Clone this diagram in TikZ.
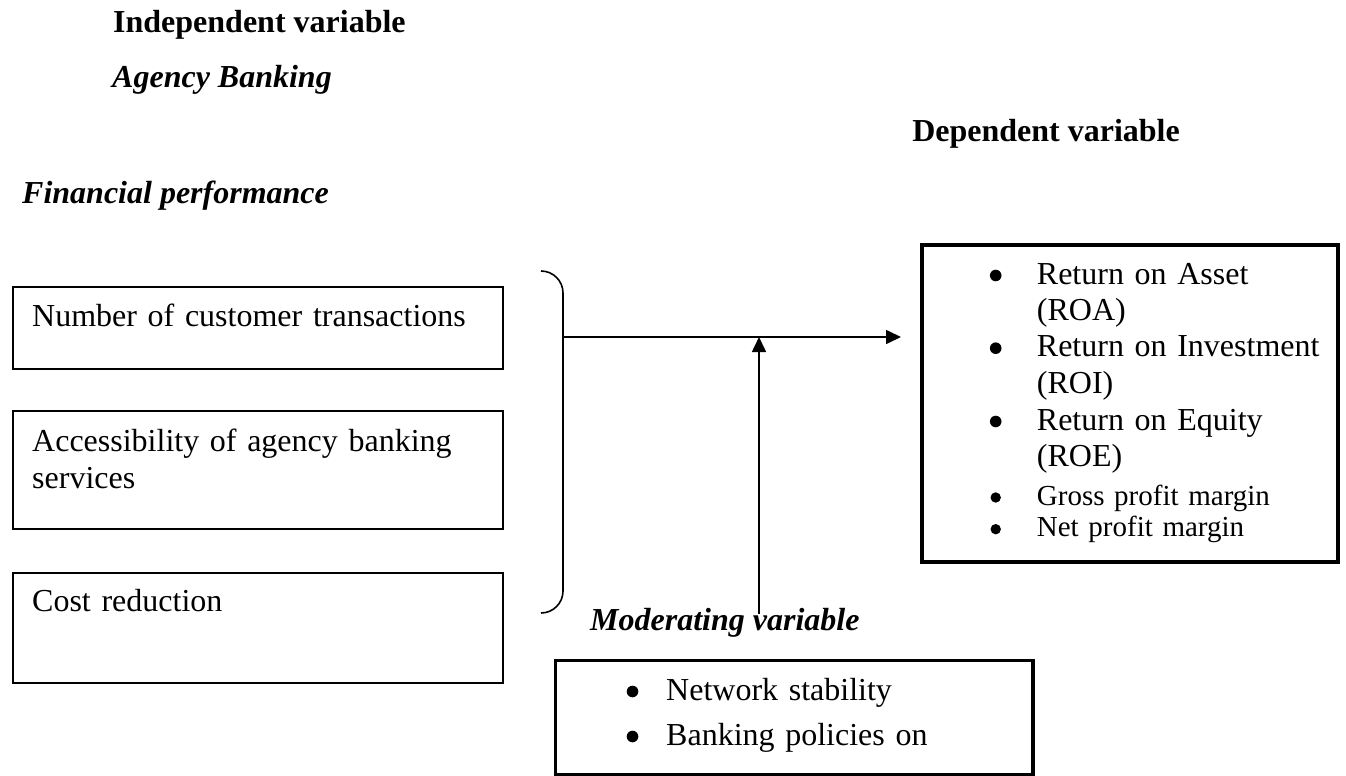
\documentclass[tikz,border=0pt]{standalone}
\usepackage{fontspec}
\setmainfont{Liberation Serif}
\usetikzlibrary{arrows.meta}

\newcommand{\bodyfont}{\fontsize{32}{36.5}\selectfont}
\newcommand{\smallbody}{\fontsize{29}{31.7}\selectfont}

\tikzset{
  head/.style={anchor=base west, inner sep=0pt, font=\bodyfont\bfseries},
  varbox/.style={draw, line width=1.8pt, anchor=north west, inner sep=0pt, minimum width=489.7pt},
  vartext/.style={anchor=base west, inner sep=0pt, font=\bodyfont, text width=460pt, align=left},
  thickbox/.style={draw, line width=3.8pt, anchor=north west, inner sep=0pt},
  bitem/.style={anchor=base west, inner sep=0pt, font=\bodyfont, text width=300pt, align=left},
  link/.style={line width=1.6pt, -{Triangle[length=15pt,width=14pt]}},
  brace/.style={line width=1.6pt, rounded corners=22pt}
}

\begin{document}
\begin{tikzpicture}[x=1pt, y=-1pt]
	\useasboundingbox (0,0) rectangle (1346,776);
	% headings
	\node[head] (indep) at (113,33) {Independent variable};
	\node[head, font=\bodyfont\bfseries\itshape] (agency) at (112,88) {Agency Banking};
	\node[head, anchor=base east] (dep) at (1180,141) {Dependent variable};
	\node[head, font=\bodyfont\bfseries\itshape] (finperf) at (22,203) {Financial performance};
	\node[head, font=\bodyfont\bfseries\itshape] (modvar) at (590,630) {Moderating variable};
	% independent variables
	\node[varbox, minimum height=81.7pt] (trans) at (12,286) {};
	\node[vartext] (transtxt) at (32,326) {Number of customer transactions};
	\node[varbox, minimum height=117.7pt] (access) at (12,410) {};
	\node[vartext] (accesstxt) at (32,451.5) {Accessibility of agency banking\\services};
	\node[varbox, minimum height=109.7pt] (cost) at (12,572) {};
	\node[vartext] (costtxt) at (32,611.7) {Cost reduction};
	% brace
	\draw[brace] (541,271) -| (563,613) -- (541,613);
	\coordinate (bracemid) at (563,337);
	% dependent variable
	\node[thickbox, minimum width=416pt, minimum height=317pt] (result) at (920,243) {};
	\node[bitem] (roa) at (1036.7,284) {Return on Asset\\(ROA)};
	\node[bitem] (roi) at (1036.7,356.7) {Return on Investment\\(ROI)};
	\node[bitem] (roe) at (1036.7,430) {Return on Equity\\(ROE)};
	\node[bitem, font=\smallbody] (gross) at (1036.7,505) {Gross profit margin};
	\node[bitem, font=\smallbody] (net) at (1036.7,536.7) {Net profit margin};
	\fill ([shift={(-41,-8.5)}]roa.base west) circle (5.8pt);
	\fill ([shift={(-41,-8.5)}]roi.base west) circle (5.8pt);
	\fill ([shift={(-41,-8.5)}]roe.base west) circle (5.8pt);
	\fill ([shift={(-41,-7.5)}]gross.base west) circle (5.2pt);
	\fill ([shift={(-41,-7.5)}]net.base west) circle (5.2pt);
	% moderating variable
	\node[thickbox, minimum width=477.5pt, minimum height=114.5pt] (moder) at (553.5,658.5) {};
	\node[bitem] (network) at (666,700) {Network stability};
	\node[bitem] (policy) at (666,745) {Banking policies on};
	\fill ([shift={(-33.5,-8.5)}]network.base west) circle (5.8pt);
	\fill ([shift={(-33.5,-8.5)}]policy.base west) circle (5.8pt);
	% arrows
	\draw[link, shorten >=19pt] (bracemid) -- (bracemid -| result.west);
	\coordinate (modfoot) at (759,614);
	\draw[link] (modfoot) -- (modfoot |- bracemid);
\end{tikzpicture}
\end{document}
